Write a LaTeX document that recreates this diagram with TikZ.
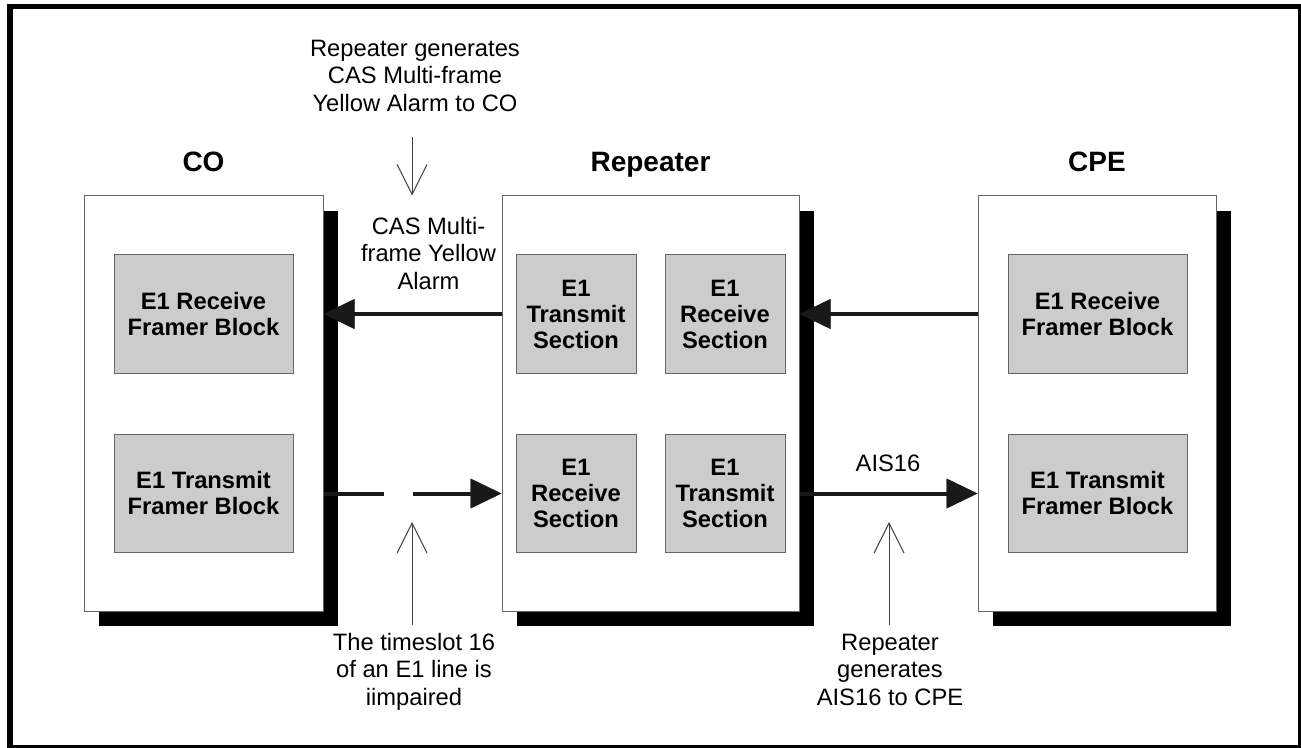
\documentclass[tikz,border=0pt]{standalone}
\usepackage{fontspec}
\setmainfont{Liberation Sans}
\usetikzlibrary{arrows.meta,shadows}
\begin{document}
\begin{tikzpicture}[x=0.75pt,y=-0.75pt,
  unitbox/.style={draw=black!60, line width=0.75pt, fill=white, rectangle, inner sep=0,
    minimum height=311.25pt,
    general shadow={fill=black, shadow xshift=11.25pt, shadow yshift=-11.25pt}},
  blk/.style={draw=black!60, line width=0.75pt, fill=black!20, inner sep=0,
    minimum width=134.25pt, minimum height=88.5pt, align=center,
    font=\fontsize{17.8}{19.5}\selectfont\bfseries},
  wideblk/.style={blk, minimum width=90pt},
  lbl/.style={inner sep=0, anchor=north, align=center, font=\fontsize{17.8}{20.6}\selectfont},
  ttl/.style={inner sep=0, anchor=base, font=\fontsize{21}{24}\selectfont\bfseries},
  bigarrow/.style={line width=3pt, black!90, -{Triangle[length=23.25pt,width=22.5pt,line width=0.3pt]}},
  thinarrow/.style={line width=0.75pt, black!75, -{Straight Barb[length=22.5pt,width=22.5pt,line width=0.75pt]}}
]
\clip (0,0) rectangle (1301,748);
\fill[white] (0,0) rectangle (1301,748);
\draw[line width=4.3pt] (10,6.5) rectangle (1301,748);

% units
\node[unitbox, minimum width=179.25pt] (co) at (203.5,403.5) {};
\node[unitbox, minimum width=222.75pt] (rep) at (650.5,403.5) {};
\node[unitbox, minimum width=178.5pt] (cpe) at (1097,403.5) {};

% titles
\node[ttl] (coname) at (203.5,172) {CO};
\node[ttl] (repname) at (650.5,172) {Repeater};
\node[ttl] (cpename) at (1097,172) {CPE};

% blocks
\node[blk] (coR) at (203.5,314) {E1 Receive\\Framer Block};
\node[blk] (coT) at (203.5,493.5) {E1 Transmit\\Framer Block};
\node[wideblk] (rTxA) at (576,314) {E1\\Transmit\\Section};
\node[wideblk] (rRxA) at (725,314) {E1\\Receive\\Section};
\node[wideblk] (rRxB) at (576,493.5) {E1\\Receive\\Section};
\node[wideblk] (rTxB) at (725,493.5) {E1\\Transmit\\Section};
\node[blk] (cpR) at (1097.5,314) {E1 Receive\\Framer Block};
\node[blk] (cpT) at (1097.5,493.5) {E1 Transmit\\Framer Block};

% signal arrows
\draw[bigarrow] (rep.west |- coR) -- (co.east |- coR);
\draw[bigarrow] (cpe.west |- cpR) -- (rep.east |- cpR);
\draw[bigarrow, dash pattern=on 45pt off 21.75pt on 400pt] (co.east |- coT) -- (rep.west |- coT);
\draw[bigarrow] (rep.east |- cpT) -- (cpe.west |- cpT);

% labels
\node[lbl] (toplbl) at (415,36.8) {\strut Repeater generates\\CAS Multi-frame\\Yellow Alarm to CO};
\node[lbl] (caslbl) at (428.5,214.8) {\strut CAS Multi-\\frame Yellow\\Alarm};
\node[lbl] (aislbl) at (888,451.8) {\strut AIS16};
\node[lbl] (tslbl) at (414,630.8) {\strut The timeslot 16\\of an E1 line is\\iimpaired};
\node[lbl] (genlbl) at (890,630.8) {\strut Repeater\\generates\\AIS16 to CPE};

% pointer arrows
\coordinate (p1) at (412,137);
\draw[thinarrow] (p1) -- (p1 |- rep.north);
\coordinate (p2) at (412,625);
\coordinate (p2e) at (412,522);
\draw[thinarrow] (p2) -- (p2e);
\coordinate (p3) at (889,625);
\coordinate (p3e) at (889,522);
\draw[thinarrow] (p3) -- (p3e);
\end{tikzpicture}
\end{document}
